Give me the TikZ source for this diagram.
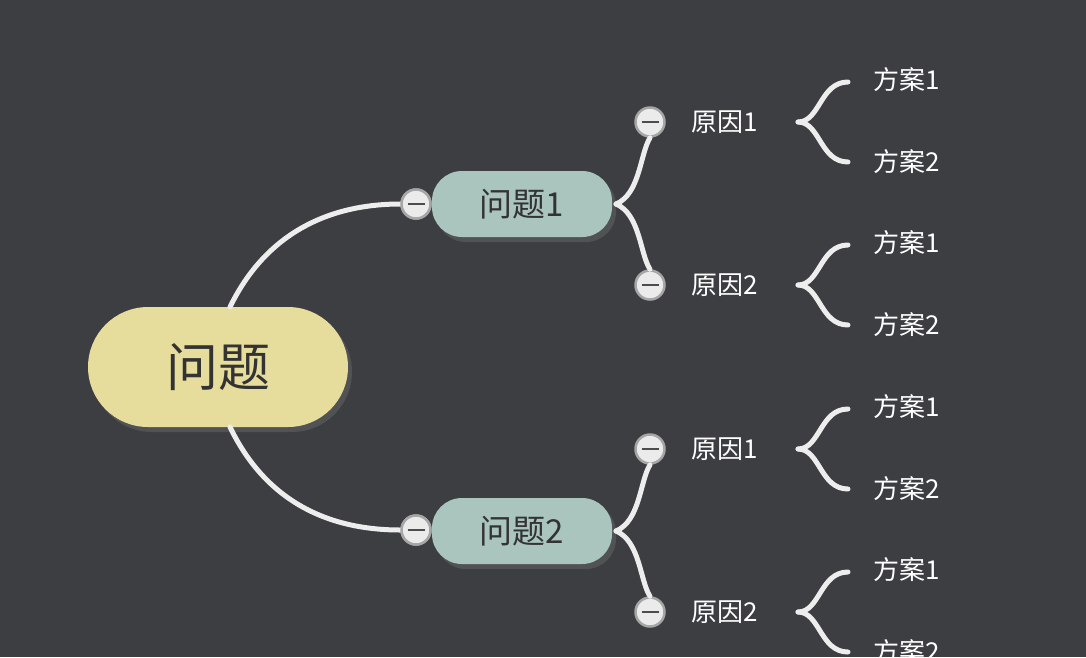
\documentclass[tikz,border=0pt]{standalone}
\usepackage{fontspec}
\setmainfont{Noto Sans CJK SC}
\usetikzlibrary{shadows}
\begin{document}
\begin{tikzpicture}[x=1pt,y=-1pt,
 link/.style={draw=white!93!black,line width=5pt,line cap=round},
 tog/.style={circle,draw=gray!70,line width=2.5pt,fill=white!92!black,minimum size=29pt,inner sep=0pt,path picture={\draw[gray!60!black,line width=2.5pt](path picture bounding box.west)++(6pt,0)--++(17pt,0);}},
 topic/.style={rounded corners=30pt,fill=topicc,minimum width=180pt,minimum height=66pt,font=\fontsize{33}{33}\selectfont,text=black!80,drop shadow={fill=black!60,shadow xshift=4pt,shadow yshift=-5pt}},
 lbl/.style={text=white,font=\fontsize{26}{26}\selectfont,anchor=west}]
\definecolor{bg}{HTML}{3C3E42}
\definecolor{topicc}{HTML}{A9C5BD}
\definecolor{rootc}{HTML}{E6DC9C}
\fill[bg](0,0) rectangle (1086,657);
\useasboundingbox (0,0) rectangle (1086,657);
\node[topic,rounded corners=60pt,fill=rootc,minimum width=260pt,minimum height=120pt,font=\fontsize{52}{52}\selectfont] (root) at (218,367) {问题};
\node[topic] (q1) at (522,204) {问题1};
\node[topic] (q2) at (522,531) {问题2};
\coordinate (rt) at (230,307); \coordinate (rb) at (230,427);
\node[tog] (t1) at (416,204) {}; \node[tog] (t2) at (416,530) {};
\draw[link] (rt) .. controls (270,225) and (340,204) .. (t1.west);
\draw[link] (rb) .. controls (270,510) and (340,530) .. (t2.west);
\node[tog] at (416,204) {}; \node[tog] at (416,530) {};
\foreach \q/\y/\n in {q1/204/a,q2/531/b}{
 \coordinate (\n o) at (616,\y);
 \node[tog] (\n1) at (650,\y-82) {};
 \node[tog] (\n2) at (650,\y+81) {};
 \draw[link] (\n o) .. controls (640,\y-10) and (640,\y-50) .. (\n1.south);
 \draw[link] (\n o) .. controls (640,\y+10) and (640,\y+50) .. (\n2.north);
}
\foreach \y/\t/\n in {122/原因1/c1,285/原因2/c2,449/原因1/c3,612/原因2/c4}{
 \node[lbl] (\n) at (688,\y) {\t};
 \coordinate (\n b) at (798,\y);
 \coordinate (\n u) at (848,\y-40); \coordinate (\n d) at (848,\y+40);
 \draw[link] (\n b) .. controls (820,\y) and (820,\y-40) .. (\n u);
 \draw[link] (\n b) .. controls (820,\y) and (820,\y+40) .. (\n d);
 \node[lbl] (\n x) at (870,\y-42) {方案1};
 \node[lbl] (\n y) at (870,\y+40) {方案2};
}
\end{tikzpicture}
\end{document}
